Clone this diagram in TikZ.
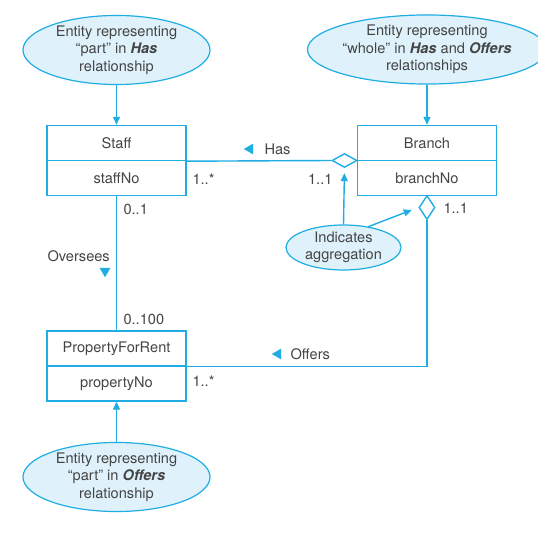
\documentclass[tikz,border=0pt]{standalone}
\usepackage{fontspec}
\setmainfont{TeX Gyre Heros}
\usetikzlibrary{shapes.geometric,arrows.meta}
\definecolor{umlblue}{HTML}{1FADE4}
\definecolor{notefill}{HTML}{DFF2FB}
\definecolor{umltext}{HTML}{444444}
\tikzstyle{every node}=[text=umltext,font=\fontsize{14.6}{17.5}\selectfont]
\tikzstyle{entity}=[draw=umlblue,line width=1.4pt,minimum width=139pt,minimum height=35pt,inner sep=0pt]
\tikzstyle{note}=[ellipse,draw=umlblue,fill=notefill,line width=1.2pt,align=center,inner sep=0pt]
\tikzstyle{agg}=[diamond,draw=umlblue,fill=white,line width=1.4pt,inner sep=0pt]
\tikzstyle{roledir}=[regular polygon,regular polygon sides=3,fill=umlblue,inner sep=0pt,minimum size=12.5pt]
\tikzstyle{link}=[draw=umlblue,line width=1.4pt]
\tikzstyle{pointer}=[link,-{Triangle[width=7pt,length=8pt]}]

\begin{document}
\begin{tikzpicture}[x=1pt,y=-1pt]
\useasboundingbox (0,0) rectangle (538,537);
\node (staff)[entity] at (116.5,143) {Staff};
\node (staffno)[entity] at (116.5,178) {staffNo};
\node (branch)[entity] at (427,143) {Branch};
\node (branchno)[entity] at (427,178) {branchNo};
\node (pfr)[entity] at (116.5,348.5) {PropertyForRent};
\node (propno)[entity] at (116.5,383.5) {propertyNo};
\node (has)[agg,minimum width=25pt,minimum height=14pt] at (344.5,160.5) {};
\node (offers)[agg,minimum width=16pt,minimum height=24pt] at (427,207.5) {};
\draw[link] (staff.south east)--(has.west);
\draw[link] (offers.south)|-(pfr.south east);
\draw[link] (staffno.south)--(pfr.north);
\node (parthas)[note,minimum width=187pt,minimum height=64pt] at (116.5,50)
    {Entity representing\\“part” in \textbf{\textit{Has}}\\relationship};
\node (whole)[note,minimum width=188pt,minimum height=65pt] at (427,49.5)
    {Entity representing\\“whole” in \textbf{\textit{Has}} and \textbf{\textit{Offers}}\\relationships};
\node (aggr)[note,minimum width=115pt,minimum height=45pt] at (343.5,247.5)
    {Indicates\\aggregation};
\node (partoffers)[note,minimum width=187pt,minimum height=62pt] at (116.5,477)
    {Entity representing\\“part” in \textbf{\textit{Offers}}\\relationship};
\draw[pointer] (parthas.south)--(staff.north);
\draw[pointer] (whole.south)--(branch.north);
\draw[pointer] (partoffers.north)--(propno.south);
\draw[pointer,shorten >=5pt] (aggr.north)--(has.south);
\draw[pointer,shorten >=7pt] (aggr.40)--(offers.west);
\node (hasdir)[roledir,rotate=90] at (250,149) {};
\node (haslbl)[anchor=west] at (261,149) {Has};
\node (offersdir)[roledir,rotate=90] at (278,354) {};
\node (offerslbl)[anchor=west] at (287,354) {Offers};
\node (overseeslbl)[anchor=west] at (44,256) {Oversees};
\node (overseesdir)[roledir,rotate=180] at (105,271) {};
\node (m1)[anchor=west] at (189,179) {1..*};
\node (m2)[anchor=east] at (336,179) {1..1};
\node (m3)[anchor=west] at (120,209) {0..1};
\node (m4)[anchor=west] at (120,319) {0..100};
\node (m5)[anchor=west] at (440,208) {1..1};
\node (m6)[anchor=west] at (189,381) {1..*};
\end{tikzpicture}
\end{document}
